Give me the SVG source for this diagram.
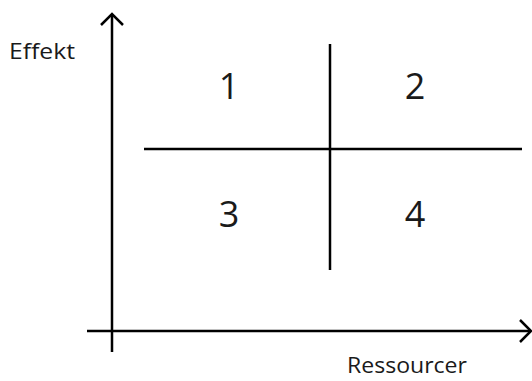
<svg xmlns="http://www.w3.org/2000/svg" width="532" height="381" viewBox="0 0 532 381">
<style>
.ln{stroke:#000;stroke-width:2.5;fill:none}
.ah{stroke:#000;stroke-width:2.5;fill:none;stroke-linecap:butt}
.t{font-family:"Open Sans","Noto Sans",sans-serif;fill:#1a1a1a}
.n{font-size:36px}
.l{font-size:22px}
</style>
<rect width="532" height="381" fill="#fff"/>
<g id="axes">
<line class="ln" x1="112" y1="15" x2="112" y2="352"/>
<polyline class="ah" points="101,25 112,14 123,25"/>
<line class="ln" x1="87" y1="331" x2="530" y2="331"/>
<polyline class="ah" points="520,320 531,331 520,342"/>
</g>
<g id="grid">
<line class="ln" x1="144" y1="149" x2="522" y2="149"/>
<line class="ln" x1="330" y1="44" x2="330" y2="270"/>
</g>
<g id="labels">
<text class="t l" x="9" y="59" textLength="66" lengthAdjust="spacingAndGlyphs">Effekt</text>
<text class="t l" x="347" y="373" textLength="120" lengthAdjust="spacingAndGlyphs">Ressourcer</text>
</g>
<g id="q1"><text class="t n" x="229" y="99" text-anchor="middle">1</text></g>
<g id="q2"><text class="t n" x="415" y="99" text-anchor="middle">2</text></g>
<g id="q3"><text class="t n" x="229" y="227" text-anchor="middle">3</text></g>
<g id="q4"><text class="t n" x="415" y="227" text-anchor="middle">4</text></g>
</svg>
